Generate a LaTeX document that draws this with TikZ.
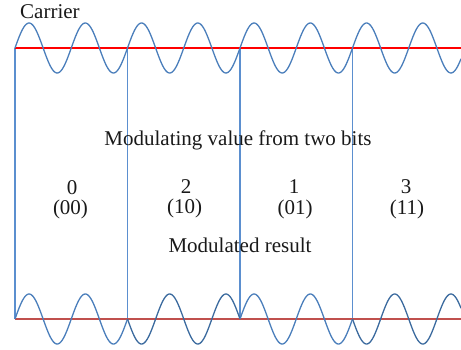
\documentclass[tikz,border=0pt]{standalone}
\usepackage{fontspec}
\setmainfont{Liberation Serif}
\definecolor{wave}{HTML}{4A7EBB}
\definecolor{waved}{HTML}{3B6A9E}
\definecolor{vline}{HTML}{5B8FCF}
\definecolor{redtop}{HTML}{FF0000}
\definecolor{redbot}{HTML}{C0504D}
\begin{document}
\begin{tikzpicture}[x=1pt,y=-1pt,
  lbl/.style={inner sep=0pt,anchor=base,font=\fontsize{21}{24}\selectfont,text=black!90},
  wv/.style={draw=wave,line width=1.3pt},
  wvd/.style={draw=waved,line width=1.3pt},
  sep/.style={draw=vline,line width=1.1pt},
  axtop/.style={draw=redtop,line width=1.3pt},
  axbot/.style={draw=redbot,line width=1.8pt}]
\useasboundingbox (0,0) rectangle (461,349);
% coordinates
\coordinate (t0) at (15,48);
\coordinate (t1) at (127.5,48);
\coordinate (t2) at (240,48);
\coordinate (t3) at (352.5,48);
\coordinate (t4) at (461,48);
\coordinate (b0) at (15,319);
\coordinate (b1) at (127.5,319);
\coordinate (b2) at (240,319);
\coordinate (b3) at (352.5,319);
\coordinate (b4) at (461,319);
% separators
\draw[sep] (t0) -- (b0);
\draw[sep] (t1) -- (b1);
\draw[sep] (t2) -- (b2);
\draw[sep] (t3) -- (b3);
% axes
\draw[axtop] (t0) -- (t4);
\draw[axbot] (b0) -- (b4);
% carrier
\draw[wv] plot[domain=15:461,samples=400,smooth] (\x,{48-25*sin(6.4*(\x-15))});
% modulated
\draw[wv] plot[domain=15:127.5,samples=120,smooth] (\x,{319-25*sin(6.4*(\x-15))});
\draw[wvd] plot[domain=127.5:240,samples=120,smooth] (\x,{319+25*sin(6.4*(\x-127.5))});
\draw[wv] plot[domain=240:352.5,samples=120,smooth] (\x,{319-25*sin(6.4*(\x-240))});
\draw[wvd] plot[domain=352.5:461,samples=120,smooth] (\x,{319+25*sin(6.4*(\x-352.5))});
% texts
\node[lbl,anchor=base west] (carrier) at (20,18) {Carrier};
\node[lbl] (modv) at (238,145) {Modulating value from two bits};
\node[lbl] (modr) at (240,252) {Modulated result};
\node[lbl] (d0) at (72,194) {0};
\node[lbl] (p0) at (70.5,214) {(00)};
\node[lbl] (d2) at (186,193) {2};
\node[lbl] (p2) at (184.5,213) {(10)};
\node[lbl] (d1) at (294,193) {1};
\node[lbl] (p1) at (295,214) {(01)};
\node[lbl] (d3) at (406,193) {3};
\node[lbl] (p3) at (407,214) {(11)};
\end{tikzpicture}
\end{document}
